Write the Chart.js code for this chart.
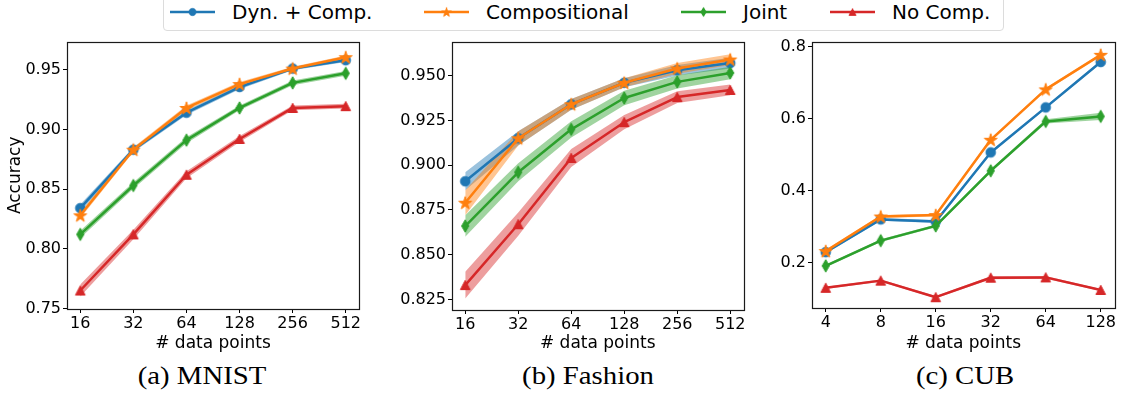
<!DOCTYPE html>
<html>
<head>
<meta charset="utf-8">
<script src="https://cdn.jsdelivr.net/npm/chart.js@4.4.0/dist/chart.umd.min.js"></script>
<style>
  html, body { margin: 0; padding: 0; background: #fff; }
  #fig { position: relative; width: 1123px; height: 398px; overflow: hidden; font-family: 'DejaVu Sans', sans-serif; }
  canvas.panel { position: absolute; top: 30px; }
  .legend-box { position: absolute; left: 163px; top: -12px; width: 839px; height: 41px; border: 1px solid #dcdcdc; border-radius: 4px; }
  .leg { position: absolute; top: 0; height: 24px; display: flex; align-items: center; font-size: 20px; color: #000; white-space: nowrap; }
  .leg canvas { margin-right: 17px; }
  .caption { position: absolute; top: 362px; font-family: 'Liberation Serif', serif; font-size: 25px; color: #000;
             transform: translateX(-50%) scaleX(1.15); white-space: nowrap; }
</style>
</head>
<body>
<div id="fig">
  <div class="legend-box"></div>
  <div id="legend"></div>
  <canvas id="mnist" class="panel" width="370" height="324" style="left:0px"></canvas>
  <canvas id="fashion" class="panel" width="380" height="324" style="left:372px"></canvas>
  <canvas id="cub" class="panel" width="371" height="324" style="left:752px"></canvas>
  <div class="caption" style="left:202px">(a) MNIST</div>
  <div class="caption" style="left:588px">(b) Fashion</div>
  <div class="caption" style="left:965px">(c) CUB</div>
</div>
<script>
// series
const seriesNames = ['Dyn. + Comp.', 'Compositional', 'Joint', 'No Comp.'];
const seriesColors = ['#1f77b4', '#ff7f0e', '#2ca02c', '#d62728'];
const seriesMarkers = ['circle', 'star', 'thinDiamond', 'triangle'];

// (a) MNIST
const mnistX = [16, 32, 64, 128, 256, 512];
const mnistXLabels = ['16', '32', '64', '128', '256', '512'];
const mnistYTicks = [0.75, 0.80, 0.85, 0.90, 0.95];
const mnistDyn = [0.834, 0.883, 0.914, 0.9355, 0.951, 0.958];
const mnistComp = [0.828, 0.883, 0.918, 0.938, 0.951, 0.9605];
const mnistJoint = [0.812, 0.853, 0.891, 0.918, 0.939, 0.947];
const mnistNoComp = [0.765, 0.812, 0.862, 0.892, 0.918, 0.9195];
const mnistDynErr = [0.003, 0.002, 0.002, 0.0018, 0.0015, 0.0015];
const mnistCompErr = [0.0025, 0.002, 0.002, 0.0018, 0.0015, 0.0015];
const mnistJointErr = [0.003, 0.0028, 0.0025, 0.002, 0.002, 0.002];
const mnistNoCompErr = [0.005, 0.004, 0.003, 0.0025, 0.002, 0.002];

// (b) Fashion
const fashionX = [16, 32, 64, 128, 256, 512];
const fashionXLabels = ['16', '32', '64', '128', '256', '512'];
const fashionYTicks = [0.825, 0.850, 0.875, 0.900, 0.925, 0.950];
const fashionDyn = [0.891, 0.915, 0.934, 0.946, 0.953, 0.957];
const fashionComp = [0.879, 0.915, 0.934, 0.946, 0.954, 0.959];
const fashionJoint = [0.866, 0.896, 0.920, 0.9375, 0.9465, 0.9515];
const fashionNoComp = [0.833, 0.867, 0.904, 0.924, 0.938, 0.942];
const fashionDynErr = [0.005, 0.004, 0.003, 0.0025, 0.003, 0.003];
const fashionCompErr = [0.007, 0.004, 0.003, 0.0025, 0.003, 0.003];
const fashionJointErr = [0.006, 0.005, 0.0045, 0.004, 0.0037, 0.0035];
const fashionNoCompErr = [0.0075, 0.0065, 0.005, 0.004, 0.0033, 0.003];

// (c) CUB
const cubX = [4, 8, 16, 32, 64, 128];
const cubXLabels = ['4', '8', '16', '32', '64', '128'];
const cubYTicks = [0.2, 0.4, 0.6, 0.8];
const cubDyn = [0.229, 0.320, 0.314, 0.506, 0.631, 0.757];
const cubComp = [0.232, 0.328, 0.332, 0.541, 0.681, 0.777];
const cubJoint = [0.191, 0.261, 0.302, 0.455, 0.592, 0.606];
const cubNoComp = [0.130, 0.150, 0.104, 0.158, 0.159, 0.124];
const cubDynErr = [0.004, 0.004, 0.004, 0.004, 0.004, 0.004];
const cubCompErr = [0.004, 0.004, 0.004, 0.004, 0.004, 0.004];
const cubJointErr = [0.004, 0.004, 0.004, 0.004, 0.006, 0.01];
const cubNoCompErr = [0.003, 0.003, 0.003, 0.004, 0.004, 0.003];

Chart.defaults.font.family = "'DejaVu Sans', sans-serif";
Chart.defaults.color = '#000';

function withAlpha(hex, a) {
  const n = parseInt(hex.slice(1), 16);
  return `rgba(${(n >> 16) & 255}, ${(n >> 8) & 255}, ${n & 255}, ${a})`;
}

// matplotlib-like marker glyphs
function makeMarker(shape, color) {
  const c = document.createElement('canvas');
  c.width = 16; c.height = 16;
  const ctx = c.getContext('2d');
  ctx.fillStyle = color;
  ctx.strokeStyle = color;
  ctx.lineWidth = 1;
  ctx.beginPath();
  if (shape === 'circle') {
    ctx.arc(8, 8, 4.8, 0, Math.PI * 2);
  } else if (shape === 'star') {
    for (let k = 0; k < 10; k++) {
      const r = k % 2 === 0 ? 6.8 : 6.8 * 0.382;
      const ang = -Math.PI / 2 + k * Math.PI / 5;
      const px = 8 + r * Math.cos(ang), py = 8.6 + r * Math.sin(ang);
      k === 0 ? ctx.moveTo(px, py) : ctx.lineTo(px, py);
    }
  } else if (shape === 'thinDiamond') {
    ctx.moveTo(8, 1.8); ctx.lineTo(11.6, 8); ctx.lineTo(8, 14.2); ctx.lineTo(4.4, 8);
  } else {
    ctx.moveTo(8, 3.3); ctx.lineTo(12.8, 12.5); ctx.lineTo(3.2, 12.5);
  }
  ctx.closePath();
  ctx.fill();
  ctx.stroke();
  return c;
}
const markerImgs = seriesMarkers.map((m, i) => makeMarker(m, seriesColors[i]));

// shared legend
const legendPos = [170, 424, 681, 830];
const legendEl = document.getElementById('legend');
seriesNames.forEach((name, s) => {
  const div = document.createElement('div');
  div.className = 'leg';
  div.style.left = legendPos[s] + 'px';
  const ic = document.createElement('canvas');
  ic.width = 45; ic.height = 24;
  const ictx = ic.getContext('2d');
  ictx.strokeStyle = seriesColors[s];
  ictx.lineWidth = 2.5;
  ictx.beginPath(); ictx.moveTo(0, 12); ictx.lineTo(45, 12); ictx.stroke();
  ictx.drawImage(markerImgs[s], 22.5 - 6, 12 - 6, 12, 12);
  div.appendChild(ic);
  const sp = document.createElement('span');
  sp.textContent = name;
  div.appendChild(sp);
  legendEl.appendChild(div);
});

const framePlugin = {
  id: 'frame',
  afterDatasetsDraw(chart) {
    const { ctx, chartArea: a } = chart;
    ctx.save();
    ctx.strokeStyle = '#1a1a1a';
    ctx.lineWidth = 1.2;
    ctx.strokeRect(Math.round(a.left) + 0.5, Math.round(a.top) + 0.5,
                   Math.round(a.right - a.left), Math.round(a.bottom - a.top));
    ctx.restore();
  }
};

function makeChart(id, xs, xLabels, means, errs, yMin, yMax, yTicks, decimals, pad, yW, xH, yTitle) {
  const datasets = [];
  means.forEach((m, s) => {
    datasets.push({
      data: xs.map((x, i) => ({ x, y: m[i] - errs[s][i] })),
      borderColor: 'rgba(0,0,0,0)', borderWidth: 0, pointRadius: 0, fill: false,
      order: 100 - 2 * s
    });
    datasets.push({
      data: xs.map((x, i) => ({ x, y: m[i] + errs[s][i] })),
      borderColor: 'rgba(0,0,0,0)', borderWidth: 0, pointRadius: 0,
      fill: '-1', backgroundColor: withAlpha(seriesColors[s], 0.45),
      order: 99 - 2 * s
    });
  });
  means.forEach((m, s) => {
    datasets.push({
      label: seriesNames[s],
      data: xs.map((x, i) => ({ x, y: m[i] })),
      borderColor: seriesColors[s],
      backgroundColor: seriesColors[s],
      borderWidth: 2.5,
      borderJoinStyle: 'round',
      pointStyle: markerImgs[s],
      pointRadius: 6,
      fill: false,
      clip: false,
      order: 10 - s
    });
  });

  return new Chart(document.getElementById(id), {
    type: 'line',
    data: { datasets },
    options: {
      responsive: false,
      animation: false,
      layout: { padding: pad },
      plugins: { legend: { display: false }, tooltip: { enabled: false } },
      scales: {
        x: {
          type: 'logarithmic',
          min: xs[0] * Math.pow(2, -0.25),
          max: xs[xs.length - 1] * Math.pow(2, 0.25),
          afterBuildTicks: (scale) => { scale.ticks = xs.map(v => ({ value: v })); },
          afterFit: (scale) => { scale.height = xH; },
          ticks: { callback: (v, i) => xLabels[i], font: { size: 16 }, color: '#000', padding: 1, autoSkip: false, maxRotation: 0 },
          grid: { drawOnChartArea: false, tickLength: 4, color: '#000', tickColor: '#000' },
          border: { display: false },
          title: { display: true, text: '# data points', font: { size: 17 }, color: '#000', padding: 0 }
        },
        y: {
          min: yMin,
          max: yMax,
          afterBuildTicks: (scale) => { scale.ticks = yTicks.map(v => ({ value: v })); },
          afterFit: (scale) => { scale.width = yW; },
          ticks: { callback: (v) => Number(v).toFixed(decimals), font: { size: 16 }, color: '#000', padding: 2 },
          grid: { drawOnChartArea: false, tickLength: 4, color: '#000', tickColor: '#000' },
          border: { display: false },
          title: { display: !!yTitle, text: yTitle || '', font: { size: 17 }, color: '#000', padding: 0 }
        }
      }
    },
    plugins: [framePlugin]
  });
}

makeChart('mnist', mnistX, mnistXLabels,
  [mnistDyn, mnistComp, mnistJoint, mnistNoComp],
  [mnistDynErr, mnistCompErr, mnistJointErr, mnistNoCompErr],
  0.7495, 0.9736, mnistYTicks, 2,
  { left: 5, top: 7, right: 11, bottom: 0 }, 62, 45, 'Accuracy');

makeChart('fashion', fashionX, fashionXLabels,
  [fashionDyn, fashionComp, fashionJoint, fashionNoComp],
  [fashionDynErr, fashionCompErr, fashionJointErr, fashionNoCompErr],
  0.8191, 0.969, fashionYTicks, 3,
  { left: 0, top: 7, right: 6, bottom: 0 }, 80, 44, null);

makeChart('cub', cubX, cubXLabels,
  [cubDyn, cubComp, cubJoint, cubNoComp],
  [cubDynErr, cubCompErr, cubJointErr, cubNoCompErr],
  0.074, 0.8137, cubYTicks, 1,
  { left: 0, top: 8, right: 7, bottom: 0 }, 60, 46, null);
</script>
</body>
</html>
